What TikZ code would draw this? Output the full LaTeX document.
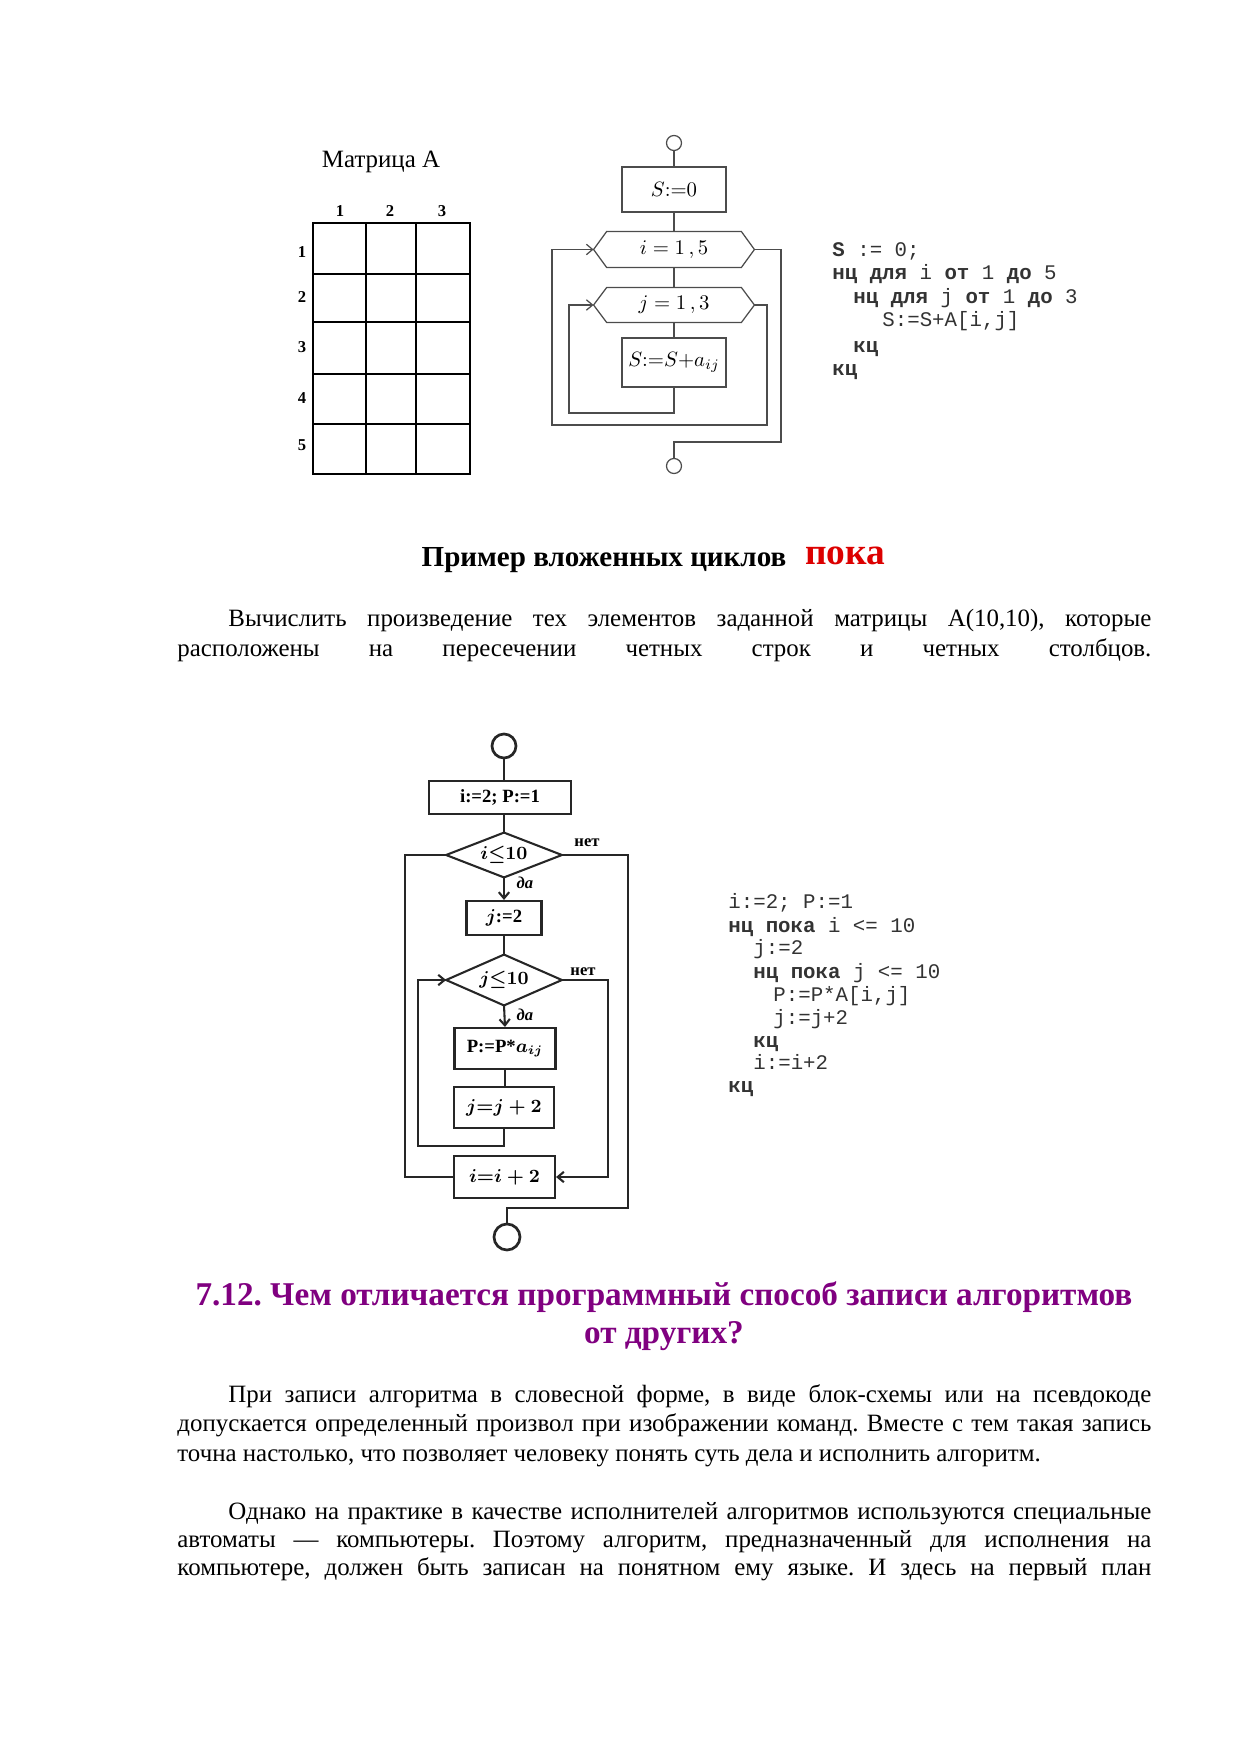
\documentclass[tikz,border=0pt]{standalone}
\usepackage{fontspec}
\setmainfont{Liberation Serif}
\newfontfamily\codefont{Liberation Mono}
\usetikzlibrary{arrows.meta}
\newdimen\pu \pu=0.4818pt
\definecolor{headpurple}{RGB}{128,0,128}
\definecolor{pokared}{RGB}{220,0,0}
\frenchspacing
\begin{document}
\begin{tikzpicture}[x=0.4818pt,y=-0.4818pt,
  thinln/.style={draw=black!70, line width=0.6pt},
  thkln/.style={draw=black!85, line width=1pt},
  arrA/.style={-{Straight Barb[length=3pt,width=5pt]}},
  blockA/.style={rectangle, inner sep=0pt, font=\fontsize{10}{12}\selectfont},
  blockB/.style={rectangle, inner sep=0pt, font=\fontsize{9}{11}\selectfont\bfseries\boldmath},
  codeA/.style={anchor=base west, inner sep=0pt, font=\codefont\fontsize{10}{12}\selectfont, text=black!80},
  txt/.style={anchor=base west, inner sep=0pt, font=\fontsize{12}{14}\selectfont},
  lbl/.style={inner sep=0pt, font=\fontsize{8}{9}\selectfont\bfseries},
  lblB/.style={inner sep=0pt, font=\fontsize{8}{9}\selectfont\bfseries},
]
\useasboundingbox (0,0) rectangle (1239,1754);

% ---------- Matrix A ----------
\node[anchor=base, inner sep=0pt, font=\fontsize{12}{14}\selectfont] (mtitle) at (381,168) {Матрица А};
\draw[line width=1.4pt] (313,223) rectangle (470,474);
\foreach \xx in {366,416} \draw[line width=1.4pt] (\xx,223) -- (\xx,474);
\foreach \yy in {274,322,374,424} \draw[line width=1.4pt] (313,\yy) -- (470,\yy);
\node[lbl] (cl1) at (340,211) {1};
\node[lbl] (cl2) at (390,211) {2};
\node[lbl] (cl3) at (442,211) {3};
\node[lbl] (rl1) at (302,252) {1};
\node[lbl] (rl2) at (302,297) {2};
\node[lbl] (rl3) at (302,347) {3};
\node[lbl] (rl4) at (302,398) {4};
\node[lbl] (rl5) at (302,445) {5};

% ---------- Flowchart 1 ----------
\node[circle, thinln, minimum size=15\pu, inner sep=0pt] (s1) at (674,143) {};
\node[blockA, thinln, minimum width=104\pu, minimum height=45\pu] (b1) at (674,189.5) {$S{:=}0$};
\node[blockA, minimum width=160\pu, minimum height=35\pu] (h1) at (674,249.5) {$i = 1\,,5$};
\draw[thinln] (h1.west) -- ([xshift=13\pu]h1.north west) -- ([xshift=-13\pu]h1.north east) -- (h1.east) -- ([xshift=-13\pu]h1.south east) -- ([xshift=13\pu]h1.south west) -- cycle;
\node[blockA, minimum width=160\pu, minimum height=34\pu] (h2) at (674,305) {$j = 1\,,3$};
\draw[thinln] (h2.west) -- ([xshift=13\pu]h2.north west) -- ([xshift=-13\pu]h2.north east) -- (h2.east) -- ([xshift=-13\pu]h2.south east) -- ([xshift=13\pu]h2.south west) -- cycle;
\node[blockA, thinln, minimum width=104\pu, minimum height=49\pu] (b2) at (674,362.5) {$S{:=}S{+}a_{ij}$};
\node[circle, thinln, minimum size=15\pu, inner sep=0pt] (s2) at (674,466) {};

\draw[thinln] (s1) -- (b1);
\draw[thinln] (b1) -- (h1);
\draw[thinln] (h1) -- (h2);
\draw[thinln] (h2) -- (b2);
\coordinate (in1) at (569,413);
\draw[thinln, arrA] (b2.south) |- (in1) |- (h2.west);
\coordinate (o1) at (767,425);
\coordinate (o2) at (552,425);
\draw[thinln, arrA] (h2.east) -| (o1) -- (o2) |- (h1.west);
\coordinate (e1) at (781,442);
\draw[thinln] (h1.east) -| (e1) -| (s2.north);

% ---------- Code 1 ----------
\node[codeA] (k1) at (832,257) {\textbf{S} := 0;};
\node[codeA] (k2) at (832,280) {\textbf{нц для} i \textbf{от} 1 \textbf{до} 5};
\node[codeA] (k3) at (853,304) {\textbf{нц для} j \textbf{от} 1 \textbf{до} 3};
\node[codeA] (k4) at (882,327) {S:=S+A[i,j]};
\node[codeA] (k5) at (853,352) {\textbf{кц}};
\node[codeA] (k6) at (832,375) {\textbf{кц}};

% ---------- Heading and task ----------
\node[anchor=base, inner sep=0pt, font=\fontsize{14}{16}\selectfont\bfseries] (hd1) at (604,566) {Пример вложенных циклов};
\node[anchor=base, inner sep=0pt, text=pokared, font=\fontsize{18}{20}\selectfont\bfseries] (hd2) at (845,564) {пока};
\node[txt] (p1a) at (228,626) {\makebox[923\pu][s]{Вычислить произведение тех элементов заданной матрицы А(10,10), которые}};
\node[txt] (p1b) at (177,656) {\makebox[974\pu][s]{расположены на пересечении четных строк и четных столбцов.}};

% ---------- Flowchart 2 ----------
\node[circle, draw=black!85, line width=1.3pt, minimum size=24\pu, inner sep=0pt] (s3) at (504,746) {};
\node[blockB, draw=black!85, line width=1.2pt, minimum width=142\pu, minimum height=33\pu] (b3) at (500,797.5) {i:=2; P:=1};
\node[blockB, minimum width=115\pu, minimum height=44\pu] (d1) at (504,855) {$i{\leq}10$};
\draw[thkln] (d1.west) -- (d1.north) -- (d1.east) -- (d1.south) -- cycle;
\node[lblB] (n1) at (587,843) {нет};
\node[lblB, font=\fontsize{8}{9}\selectfont\bfseries\itshape] (y1) at (525,883) {да};
\node[blockB, thkln, minimum width=75\pu, minimum height=34\pu] (b4) at (504,918) {$j$:=2};
\node[blockB, minimum width=115\pu, minimum height=50\pu] (d2) at (504,980) {$j{\leq}10$};
\draw[thkln] (d2.west) -- (d2.north) -- (d2.east) -- (d2.south) -- cycle;
\node[lblB] (n2) at (583,972) {нет};
\node[lblB, font=\fontsize{8}{9}\selectfont\bfseries\itshape] (y2) at (525,1015) {да};
\node[blockB, thkln, minimum width=101\pu, minimum height=41\pu] (b5) at (505,1048.5) {P:=P*$a_{ij}$};
\node[blockB, thkln, minimum width=100\pu, minimum height=41\pu] (b6) at (504,1107.5) {$j{=}j+2$};
\node[blockB, thkln, minimum width=101\pu, minimum height=42\pu] (b7) at (504.5,1177) {$i{=}i+2$};
\node[circle, draw=black!85, line width=1.3pt, minimum size=26\pu, inner sep=0pt] (s4) at (507,1237) {};

\draw[thkln] (s3.south) -- (s3.south |- b3.north);
\draw[thkln] (b3.south -| d1.north) -- (d1.north);
\draw[thkln, arrA] (d1.south) -- (b4.north);
\draw[thkln] (b4.south) -- (d2.north);
\draw[thkln, arrA] (d2.south) -- (b5.north);
\draw[thkln] (b5.south) -- (b5.south |- b6.north);
\coordinate (q1) at (418,1146);
\draw[thkln, arrA] (b6.south) |- (q1) |- (d2.west);
\coordinate (q2) at (608,1177);
\draw[thkln, arrA] (d2.east) -| (q2) -- (b7.east);
\coordinate (q3) at (405,1177);
\draw[thkln] (b7.west) -- (q3) |- (d1.west);
\coordinate (q4) at (628,1208);
\draw[thkln] (d1.east) -| (q4) -| (s4.north);

% ---------- Code 2 ----------
\node[codeA] (m1) at (728,908) {i:=2; P:=1};
\node[codeA] (m2) at (728,932) {\textbf{нц пока} i <= 10};
\node[codeA] (m3) at (753,954) {j:=2};
\node[codeA] (m4) at (753,978) {\textbf{нц пока} j <= 10};
\node[codeA] (m5) at (773,1001) {P:=P*A[i,j]};
\node[codeA] (m6) at (773,1024) {j:=j+2};
\node[codeA] (m7) at (753,1047) {\textbf{кц}};
\node[codeA] (m8) at (753,1069) {i:=i+2};
\node[codeA] (m9) at (728,1092) {\textbf{кц}};

% ---------- Section 7.12 ----------
\node[anchor=base, inner sep=0pt, text=headpurple, font=\fontsize{16}{18}\selectfont\bfseries] (sa) at (664,1305) {7.12. Чем отличается программный способ записи алгоритмов};
\node[anchor=base, inner sep=0pt, text=headpurple, font=\fontsize{16}{18}\selectfont\bfseries] (sb) at (664,1343) {от других?};

\node[txt] (p2a) at (228,1402) {\makebox[923\pu][s]{При записи алгоритма в словесной форме, в виде блок-схемы или на псевдокоде}};
\node[txt] (p2b) at (177,1431) {\makebox[974\pu][s]{допускается определенный произвол при изображении команд. Вместе с тем такая запись}};
\node[txt] (p2c) at (177,1461) {точна настолько, что позволяет человеку понять суть дела и исполнить алгоритм.};

\node[txt] (p3a) at (228,1519) {\makebox[923\pu][s]{Однако на практике в качестве исполнителей алгоритмов используются специальные}};
\node[txt] (p3b) at (177,1547) {\makebox[974\pu][s]{автоматы — компьютеры. Поэтому алгоритм, предназначенный для исполнения на}};
\node[txt] (p3c) at (177,1575) {\makebox[974\pu][s]{компьютере, должен быть записан на понятном ему языке. И здесь на первый план}};
\end{tikzpicture}
\end{document}
